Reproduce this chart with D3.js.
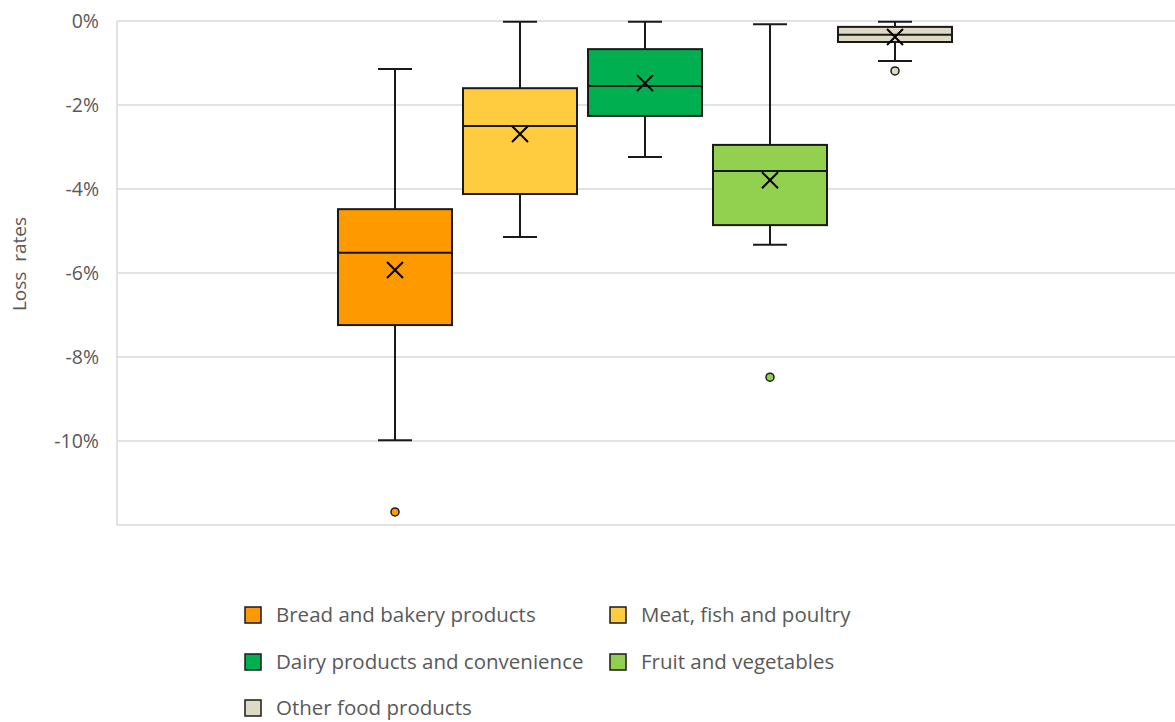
<!DOCTYPE html>
<html>
<head>
<meta charset="utf-8">
<script src="https://cdn.jsdelivr.net/npm/d3@7"></script>
<style>
  body { margin: 0; background: #fff; }
  text { font-family: "Open Sans", "Noto Sans", sans-serif; }
</style>
</head>
<body>
<script>
// data (percent values)
var categories = ["Bread and bakery products", "Meat, fish and poultry", "Dairy products and convenience", "Fruit and vegetables", "Other food products"];
var colors = ["#FF9900", "#FFCC3F", "#00B050", "#92D050", "#DDD9C4"];
var whiskerHigh = [-1.14, -0.02, -0.02, -0.08, -0.02];
var q3 = [-4.48, -1.60, -0.67, -2.95, -0.14];
var median = [-5.52, -2.50, -1.55, -3.57, -0.33];
var q1 = [-7.24, -4.12, -2.26, -4.86, -0.50];
var whiskerLow = [-9.98, -5.14, -3.24, -5.33, -0.95];
var means = [-5.93, -2.69, -1.48, -3.79, -0.38];
var outliers = [[-11.69], [], [], [-8.48], [-1.19]];
var yTicks = [0, -2, -4, -6, -8, -10];

var width = 1175, height = 722;
var svg = d3.select("body").append("svg")
    .attr("width", width)
    .attr("height", height);

var plotLeft = 117, plotRight = 1175, plotTop = 21, plotBottom = 525;

var y = d3.scaleLinear()
    .domain([0, -12])
    .range([plotTop, plotBottom]);

// boxes are centered in the plot area
var x = d3.scaleBand()
    .domain(categories)
    .range([338, 952])
    .paddingInner(0.088)
    .paddingOuter(0);

// gridlines
svg.append("g").selectAll("line")
    .data(yTicks)
    .enter().append("line")
    .attr("x1", plotLeft).attr("x2", plotRight)
    .attr("y1", function (d) { return y(d); })
    .attr("y2", function (d) { return y(d); })
    .attr("stroke", "#d9d9d9")
    .attr("stroke-width", 1.5);

// axis frame lines
svg.append("line")
    .attr("x1", plotLeft).attr("x2", plotLeft)
    .attr("y1", plotTop).attr("y2", plotBottom)
    .attr("stroke", "#d9d9d9").attr("stroke-width", 1.5);
svg.append("line")
    .attr("x1", plotLeft).attr("x2", plotRight)
    .attr("y1", plotBottom).attr("y2", plotBottom)
    .attr("stroke", "#d9d9d9").attr("stroke-width", 1.5);

// y axis labels
var yAxis = d3.axisLeft(y)
    .tickValues(yTicks)
    .tickSize(0)
    .tickPadding(0)
    .tickFormat(function (d) { return d + "%"; });
var ax = svg.append("g")
    .attr("transform", "translate(99,0)")
    .call(yAxis);
ax.select(".domain").remove();
ax.selectAll("text")
    .attr("fill", "#595959")
    .style("font-size", "19.5px")
    .style("font-family", "'Open Sans', sans-serif");

svg.append("text")
    .attr("transform", "translate(26,264) rotate(-90)")
    .attr("text-anchor", "middle")
    .attr("fill", "#595959")
    .style("font-size", "19px")
    .style("white-space", "pre")
    .text("Loss  rates");

// build box rows
var rows = categories.map(function (c, i) {
    return {
        cat: c, color: colors[i],
        hi: whiskerHigh[i], q3: q3[i], med: median[i], q1: q1[i], lo: whiskerLow[i],
        mean: means[i], out: outliers[i]
    };
});

var bw = x.bandwidth();
var capHalf = 17;
var g = svg.append("g").selectAll("g.box")
    .data(rows)
    .enter().append("g")
    .attr("class", "box")
    .attr("transform", function (d) { return "translate(" + x(d.cat) + ",0)"; });

// whiskers
g.append("line")
    .attr("x1", bw / 2).attr("x2", bw / 2)
    .attr("y1", function (d) { return y(d.hi); })
    .attr("y2", function (d) { return y(d.lo); })
    .attr("stroke", "#1a1a1a").attr("stroke-width", 2);
g.append("line")
    .attr("x1", bw / 2 - capHalf).attr("x2", bw / 2 + capHalf)
    .attr("y1", function (d) { return y(d.hi); })
    .attr("y2", function (d) { return y(d.hi); })
    .attr("stroke", "#1a1a1a").attr("stroke-width", 2);
g.append("line")
    .attr("x1", bw / 2 - capHalf).attr("x2", bw / 2 + capHalf)
    .attr("y1", function (d) { return y(d.lo); })
    .attr("y2", function (d) { return y(d.lo); })
    .attr("stroke", "#1a1a1a").attr("stroke-width", 2);

// box
g.append("rect")
    .attr("x", 0)
    .attr("width", bw)
    .attr("y", function (d) { return y(d.q3); })
    .attr("height", function (d) { return y(d.q1) - y(d.q3); })
    .attr("fill", function (d) { return d.color; })
    .attr("stroke", "#1a1a1a").attr("stroke-width", 2);

// median
g.append("line")
    .attr("x1", 0).attr("x2", bw)
    .attr("y1", function (d) { return y(d.med); })
    .attr("y2", function (d) { return y(d.med); })
    .attr("stroke", "#1a1a1a").attr("stroke-width", 2);

// mean marker
var m = 8;
g.append("path")
    .attr("d", function (d) {
        var cx = bw / 2, cy = y(d.mean);
        return "M" + (cx - m) + "," + (cy - m) + "L" + (cx + m) + "," + (cy + m) +
            "M" + (cx - m) + "," + (cy + m) + "L" + (cx + m) + "," + (cy - m);
    })
    .attr("stroke", "#000").attr("stroke-width", 2);

// outliers
g.selectAll("circle")
    .data(function (d) { return d.out.map(function (v) { return {v: v, color: d.color}; }); })
    .enter().append("circle")
    .attr("cx", bw / 2)
    .attr("cy", function (d) { return y(d.v); })
    .attr("r", 4)
    .attr("fill", function (d) { return d.color; })
    .attr("stroke", "#1a1a1a").attr("stroke-width", 1.5);

// legend
var legendPos = [[245, 615], [610, 615], [245, 662], [610, 662], [245, 708]];
var lg = svg.append("g").selectAll("g")
    .data(rows)
    .enter().append("g")
    .attr("transform", function (d, i) { return "translate(" + legendPos[i][0] + "," + legendPos[i][1] + ")"; });
lg.append("rect")
    .attr("x", 0).attr("y", -8)
    .attr("width", 16).attr("height", 16)
    .attr("fill", function (d) { return d.color; })
    .attr("stroke", "#1a1a1a").attr("stroke-width", 1.5);
lg.append("text")
    .attr("x", 31).attr("y", 0)
    .attr("dy", "0.35em")
    .attr("fill", "#595959")
    .style("font-size", "20.5px")
    .text(function (d) { return d.cat; });
</script>
</body>
</html>
